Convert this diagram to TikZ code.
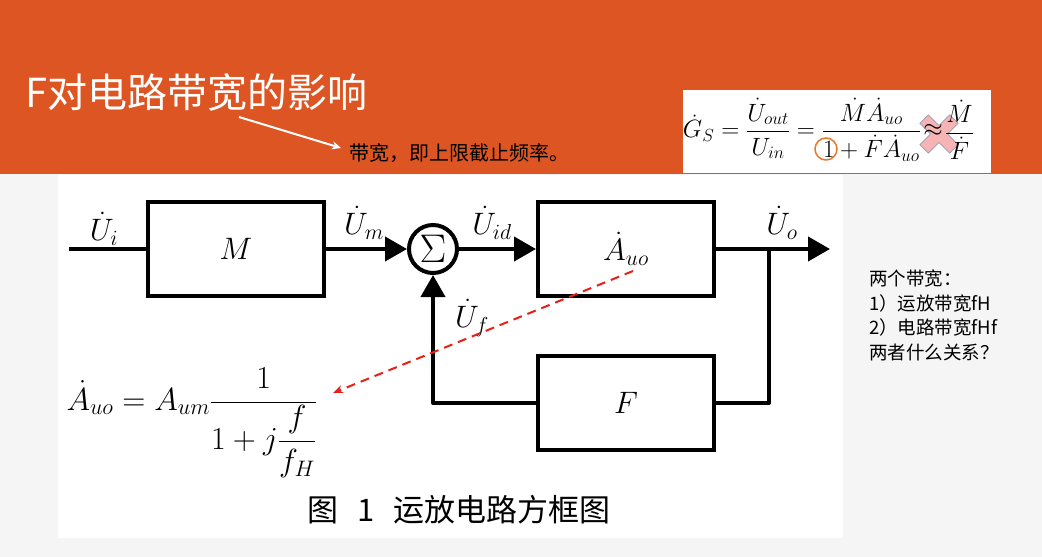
\RequirePackage{fix-cm}
\documentclass[tikz,border=0pt]{standalone}
\usepackage{amsmath}
\usepackage{fontspec}
\newfontfamily\cjk{Noto Sans CJK SC}
\usetikzlibrary{arrows.meta,positioning}
\definecolor{bandorange}{RGB}{221,85,34}
\definecolor{pagegray}{RGB}{245,245,245}
\definecolor{hintred}{RGB}{232,32,24}
\definecolor{crosspink}{RGB}{246,180,180}
\definecolor{crossedge}{RGB}{128,140,172}
\definecolor{ringorange}{RGB}{232,120,40}
\tikzset{
  blockbox/.style={draw,line width=4pt,minimum width=176pt,minimum height=94pt,font=\fontsize{31}{36}\selectfont},
  sig/.style={font=\fontsize{31}{36}\selectfont},
  fmla/.style={inner sep=1pt,font=\fontsize{25}{30}\selectfont},
}

\begin{document}
\begin{tikzpicture}[x=1pt,y=-1pt,>={Triangle[length=22pt,width=24pt]}]
\useasboundingbox (0,0) rectangle (1042,557);
% slide background
\fill[pagegray] (0,0) rectangle (1042,557);
\fill[bandorange] (0,0) rectangle (1042,174);
\fill[white] (58,175) rectangle (843,538);
\fill[white] (683,90) rectangle (991,173);

% title and note
\node[anchor=west,text=white,font=\cjk\fontsize{40}{48}\selectfont] (title) at (22,92) {F对电路带宽的影响};
\node[anchor=west,font=\cjk\fontsize{20}{24}\selectfont] (bwnote) at (346,153) {带宽，即上限截止频率。};
\coordinate (pointtail) at (239,117);
\coordinate (pointhead) at (341,148);
\draw[white,line width=2pt,-{Stealth[length=9pt,width=8pt]}] (pointtail) -- (pointhead);

% closed loop gain, crossed out
\coordinate (xmark) at (939,134);
\filldraw[crosspink,draw=crossedge,line width=0.6pt,shift={(xmark)},rotate=45]
  (6,6) -- (6,21) -- (-6,21) -- (-6,6) -- (-21,6) -- (-21,-6) -- (-6,-6) -- (-6,-21)
  -- (6,-21) -- (6,-6) -- (21,-6) -- (21,6) -- cycle;
\node[fmla] (apx) at (933,130) {$\approx$};
\node[fmla,left=0pt of apx] (gsmain) {$\dot{G}_S=\dfrac{\dot{U}_{out}}{U_{in}}=\dfrac{\dot{M}\dot{A}_{uo}}{1+\dot{F}\dot{A}_{uo}}$};
\node[fmla,right=0pt of apx] (mfrac) {$\dfrac{\dot{M}}{\dot{F}}$};
\draw[ringorange,line width=1.5pt] (826,149) circle (11pt);

% blocks
\node[blockbox] (blkM) at (236,249) {$M$};
\node[circle,draw,line width=4pt,minimum size=48pt,inner sep=0pt,font=\fontsize{40}{42}\selectfont] (sum) at (433,249) {$\Sigma$};
\node[blockbox] (blkA) at (626,249) {$\dot{A}_{uo}$};
\node[blockbox] (blkF) at (626,403) {$F$};
\coordinate (in) at (69,249);
\coordinate (branch) at (769,249);
\coordinate (out) at (830,249);

% signal path
\draw[line width=4pt] (in) -- (blkM);
\draw[line width=4pt,->] (blkM) -- (sum);
\draw[line width=4pt,->] (sum) -- (blkA);
\draw[line width=4pt,->] (blkA) -- (out);
\draw[line width=4pt,line join=round] (branch) |- (blkF.east);
\draw[line width=4pt,line join=round,->] (blkF.west) -| (sum.south);

\node[sig] (lUi) at (104,229) {$\dot{U}_i$};
\node[sig] (lUm) at (364,223) {$\dot{U}_m$};
\node[sig] (lUid) at (492,223) {$\dot{U}_{id}$};
\node[sig] (lUo) at (782,223) {$\dot{U}_o$};
\node[sig] (lUf) at (472,318) {$\dot{U}_f$};

% open loop gain
\node[sig,anchor=base west,font=\fontsize{32}{38}\selectfont] (auoeq) at (63,410) {$\dot{A}_{uo}=A_{um}\dfrac{1}{1+j\dfrac{f}{f_H}}$};
\coordinate (hintstart) at (633,271);
\coordinate (hintend) at (333,393);
\draw[hintred,line width=2pt,dash pattern=on 9pt off 6pt,-{Stealth[length=10pt,width=8pt]}] (hintstart) -- (hintend);

\node[font=\cjk\fontsize{31}{36}\selectfont] (caption) at (459,510) {图\hspace{0.6em}1\hspace{0.6em}运放电路方框图};

% question on the right
\node[anchor=north west,align=left,inner sep=0pt,font=\cjk\fontsize{18.5}{24.5}\selectfont] (quest) at (869,270) {两个带宽：\\1）运放带宽fH\\2）电路带宽fHf\\两者什么关系？};
\end{tikzpicture}
\end{document}
